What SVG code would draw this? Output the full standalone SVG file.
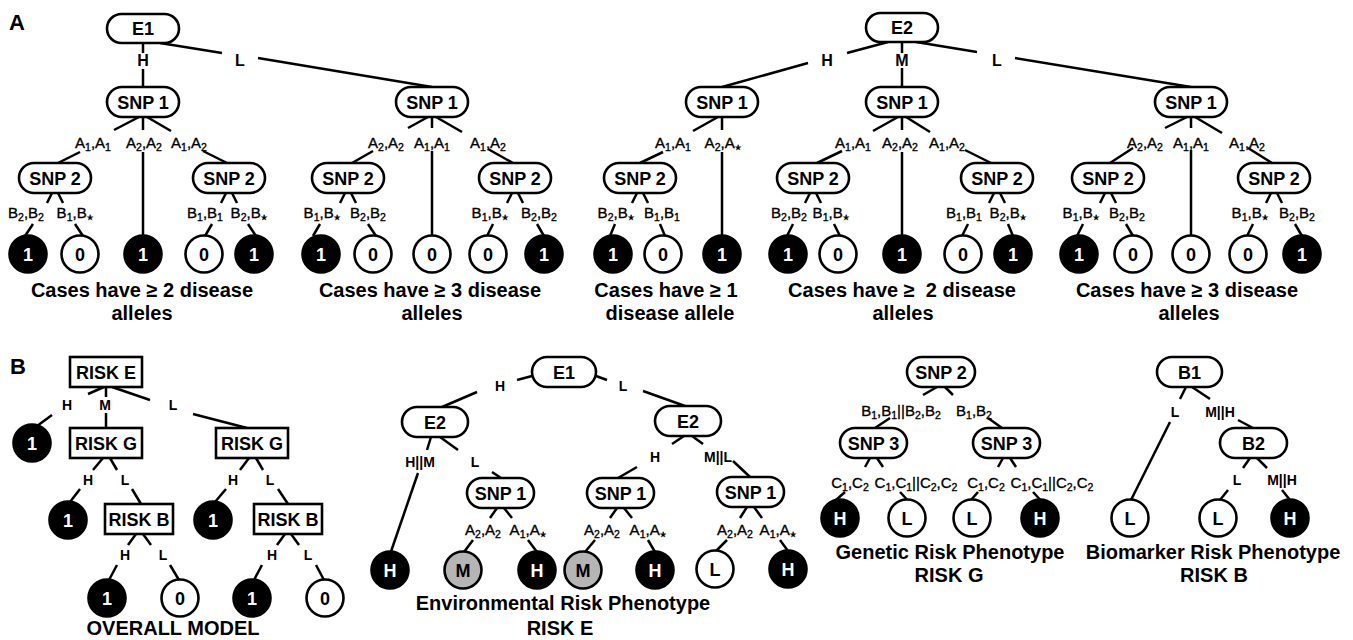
<svg xmlns="http://www.w3.org/2000/svg" width="1353" height="640" viewBox="0 0 1353 640">
<style>
.nd{fill:#fff;stroke:#000;stroke-width:2.6}
.lf{fill:#000;stroke:#000;stroke-width:2.6}
.lo{fill:#fff;stroke:#000;stroke-width:2.6}
.lg{fill:#b5b5b5;stroke:#000;stroke-width:2.6}
#connectors line{stroke:#000;stroke-width:2.5}
text{font-family:"Liberation Sans",Arial,sans-serif;text-anchor:middle}
.nt{font-size:18px;font-weight:bold}
.wt{fill:#fff}
.g{font-size:15px;stroke:#000;stroke-width:0.35}
.s{font-size:10.5px}
.st{font-family:"DejaVu Sans",sans-serif;font-size:7.5px}
.h{font-size:16px;font-weight:bold}
.hb{font-size:14px;font-weight:bold}
.cap{font-size:20px;font-weight:bold}
.pl{font-size:22px;font-weight:bold;text-anchor:start}
</style>

<text class="pl" x="9" y="30">A</text>
<text class="pl" x="10" y="374">B</text>

<g id="connectors">
<!-- A: E1 -->
<line x1="143" y1="43" x2="143" y2="53"/><line x1="143" y1="69" x2="143" y2="87"/>
<line x1="160" y1="43" x2="222" y2="53"/><line x1="258" y1="58" x2="432" y2="87"/>
<line x1="139" y1="117" x2="114" y2="130"/><line x1="80" y1="152" x2="58" y2="163"/>
<line x1="143" y1="117" x2="143" y2="130"/><line x1="143" y1="152" x2="143" y2="235.5"/>
<line x1="147" y1="117" x2="171" y2="131"/><line x1="203" y1="151" x2="227" y2="163"/>
<line x1="52" y1="193" x2="47" y2="203"/><line x1="33" y1="224" x2="25" y2="236"/>
<line x1="58" y1="193" x2="63" y2="203"/><line x1="75" y1="224" x2="83" y2="236"/>
<line x1="226" y1="193" x2="221" y2="203"/><line x1="212" y1="224" x2="205" y2="236"/>
<line x1="232" y1="193" x2="237" y2="203"/><line x1="248" y1="224" x2="256" y2="236"/>
<line x1="428" y1="117" x2="408" y2="128"/><line x1="373" y1="151" x2="352" y2="163"/>
<line x1="432" y1="117" x2="432" y2="128"/><line x1="432" y1="151" x2="432" y2="235.5"/>
<line x1="436" y1="117" x2="462" y2="132"/><line x1="488" y1="149" x2="513" y2="163"/>
<line x1="345" y1="193" x2="340" y2="203"/><line x1="320" y1="224" x2="313" y2="236"/>
<line x1="351" y1="193" x2="356" y2="203"/><line x1="368" y1="224" x2="376" y2="236"/>
<line x1="512" y1="193" x2="507" y2="203"/><line x1="493" y1="224" x2="487" y2="236"/>
<line x1="518" y1="193" x2="523" y2="203"/><line x1="537" y1="224" x2="544" y2="236"/>
<!-- A: E2 -->
<line x1="888" y1="42" x2="847" y2="53"/><line x1="808" y1="63" x2="722" y2="87"/>
<line x1="902" y1="42" x2="902" y2="53"/><line x1="902" y1="68" x2="902" y2="87"/>
<line x1="916" y1="42" x2="977" y2="52"/><line x1="1015" y1="58" x2="1191" y2="87"/>
<line x1="718" y1="117" x2="693" y2="131"/><line x1="663" y1="152" x2="640" y2="163"/>
<line x1="722" y1="117" x2="722" y2="130"/><line x1="722" y1="152" x2="722" y2="235.5"/>
<line x1="637" y1="193" x2="632" y2="203"/><line x1="615" y1="224" x2="610" y2="236"/>
<line x1="643" y1="193" x2="648" y2="203"/><line x1="660" y1="224" x2="665" y2="236"/>
<line x1="898" y1="117" x2="873" y2="131"/><line x1="842" y1="151" x2="817" y2="163"/>
<line x1="902" y1="117" x2="902" y2="130"/><line x1="902" y1="152" x2="902" y2="235.5"/>
<line x1="906" y1="117" x2="930" y2="132"/><line x1="965" y1="150" x2="991" y2="163"/>
<line x1="810" y1="193" x2="805" y2="203"/><line x1="793" y1="224" x2="787" y2="236"/>
<line x1="816" y1="193" x2="821" y2="203"/><line x1="834" y1="224" x2="840" y2="236"/>
<line x1="994" y1="193" x2="989" y2="203"/><line x1="968" y1="224" x2="962" y2="236"/>
<line x1="1000" y1="193" x2="1005" y2="203"/><line x1="1008" y1="224" x2="1013" y2="236"/>
<line x1="1187" y1="117" x2="1165" y2="128"/><line x1="1133" y1="148" x2="1110" y2="163"/>
<line x1="1191" y1="117" x2="1191" y2="128"/><line x1="1191" y1="150" x2="1191" y2="235.5"/>
<line x1="1195" y1="117" x2="1222" y2="133"/><line x1="1248" y1="148" x2="1272" y2="163"/>
<line x1="1105" y1="193" x2="1100" y2="203"/><line x1="1083" y1="224" x2="1077" y2="236"/>
<line x1="1111" y1="193" x2="1116" y2="203"/><line x1="1126" y1="224" x2="1133" y2="236"/>
<line x1="1271" y1="193" x2="1266" y2="203"/><line x1="1253" y1="224" x2="1247" y2="236"/>
<line x1="1277" y1="193" x2="1282" y2="203"/><line x1="1295" y1="224" x2="1302" y2="236"/>
<!-- B: overall -->
<line x1="104" y1="387" x2="88" y2="394"/><line x1="52" y1="415" x2="37" y2="426"/>
<line x1="106" y1="387" x2="106" y2="397"/><line x1="106" y1="413" x2="106" y2="428"/>
<line x1="112" y1="387" x2="150" y2="400"/><line x1="193" y1="414" x2="247" y2="428"/>
<line x1="103" y1="458" x2="93" y2="470"/><line x1="80" y1="489" x2="70" y2="502"/>
<line x1="110" y1="458" x2="117" y2="470"/><line x1="132" y1="489" x2="141" y2="504"/>
<line x1="249" y1="458" x2="240" y2="470"/><line x1="226" y1="489" x2="215" y2="502"/>
<line x1="256" y1="458" x2="263" y2="470"/><line x1="278" y1="489" x2="288" y2="504"/>
<line x1="136" y1="534" x2="128" y2="545"/><line x1="117" y1="565" x2="109" y2="580"/>
<line x1="143" y1="534" x2="151" y2="545"/><line x1="170" y1="565" x2="179" y2="580"/>
<line x1="285" y1="534" x2="277" y2="545"/><line x1="262" y1="565" x2="254" y2="580"/>
<line x1="291" y1="534" x2="299" y2="545"/><line x1="316" y1="565" x2="324" y2="580"/>
<!-- B: RISK E -->
<line x1="532" y1="376" x2="517" y2="380"/><line x1="477" y1="392" x2="442" y2="407"/>
<line x1="596" y1="376" x2="607" y2="380"/><line x1="643" y1="391" x2="685" y2="406"/>
<line x1="431" y1="437" x2="427" y2="450"/><line x1="418" y1="473" x2="391" y2="551.5"/>
<line x1="440" y1="437" x2="458" y2="450"/><line x1="492" y1="472" x2="501" y2="478"/>
<line x1="684" y1="436" x2="672" y2="444"/><line x1="637" y1="467" x2="618" y2="478"/>
<line x1="692" y1="436" x2="703" y2="444"/><line x1="733" y1="461" x2="750" y2="477"/>
<line x1="497" y1="508" x2="490" y2="518"/><line x1="473" y1="540" x2="464" y2="552"/>
<line x1="504" y1="508" x2="512" y2="518"/><line x1="528" y1="540" x2="537" y2="552"/>
<line x1="617" y1="508" x2="610" y2="518"/><line x1="595" y1="540" x2="585" y2="552"/>
<line x1="624" y1="508" x2="632" y2="518"/><line x1="648" y1="540" x2="655" y2="552"/>
<line x1="747" y1="507" x2="740" y2="518"/><line x1="727" y1="540" x2="716" y2="551"/>
<line x1="754" y1="507" x2="762" y2="518"/><line x1="780" y1="540" x2="788" y2="551"/>
<!-- B: RISK G -->
<line x1="937" y1="387" x2="923" y2="395"/><line x1="890" y1="418" x2="875" y2="428"/>
<line x1="945" y1="387" x2="953" y2="395"/><line x1="988" y1="418" x2="1002" y2="428"/>
<line x1="870" y1="458" x2="865" y2="467"/><line x1="845" y1="492" x2="836" y2="500"/>
<line x1="877" y1="458" x2="883" y2="467"/><line x1="900" y1="492" x2="907" y2="499.5"/>
<line x1="1003" y1="458" x2="998" y2="467"/><line x1="978" y1="492" x2="971" y2="500"/>
<line x1="1010" y1="458" x2="1016" y2="467"/><line x1="1033" y1="492" x2="1040" y2="499.5"/>
<!-- B: RISK B -->
<line x1="1186" y1="387" x2="1180" y2="399"/><line x1="1170" y1="422" x2="1131" y2="500"/>
<line x1="1192" y1="387" x2="1210" y2="399"/><line x1="1238" y1="420" x2="1253" y2="428"/>
<line x1="1250" y1="458" x2="1243" y2="468"/><line x1="1228" y1="490" x2="1220" y2="500"/>
<line x1="1257" y1="458" x2="1267" y2="468"/><line x1="1282" y1="490" x2="1290" y2="500"/>
</g>

<g id="edge-labels">
<text class="h" x="143" y="66">H</text><text class="h" x="240" y="66">L</text>
<text class="h" x="827" y="66">H</text><text class="h" x="902" y="66">M</text><text class="h" x="997" y="66">L</text>
<text class="g" x="93" y="148">A<tspan class="s" dy="3">1</tspan><tspan dy="-3">,A</tspan><tspan class="s" dy="3">1</tspan></text>
<text class="g" x="144" y="148">A<tspan class="s" dy="3">2</tspan><tspan dy="-3">,A</tspan><tspan class="s" dy="3">2</tspan></text>
<text class="g" x="189" y="148">A<tspan class="s" dy="3">1</tspan><tspan dy="-3">,A</tspan><tspan class="s" dy="3">2</tspan></text>
<text class="g" x="386" y="148">A<tspan class="s" dy="3">2</tspan><tspan dy="-3">,A</tspan><tspan class="s" dy="3">2</tspan></text>
<text class="g" x="432" y="148">A<tspan class="s" dy="3">1</tspan><tspan dy="-3">,A</tspan><tspan class="s" dy="3">1</tspan></text>
<text class="g" x="488" y="148">A<tspan class="s" dy="3">1</tspan><tspan dy="-3">,A</tspan><tspan class="s" dy="3">2</tspan></text>
<text class="g" x="673" y="148">A<tspan class="s" dy="3">1</tspan><tspan dy="-3">,A</tspan><tspan class="s" dy="3">1</tspan></text>
<text class="g" x="723" y="148">A<tspan class="s" dy="3">2</tspan><tspan dy="-3">,A</tspan><tspan class="st" dy="2">★</tspan></text>
<text class="g" x="853" y="148">A<tspan class="s" dy="3">1</tspan><tspan dy="-3">,A</tspan><tspan class="s" dy="3">1</tspan></text>
<text class="g" x="900" y="148">A<tspan class="s" dy="3">2</tspan><tspan dy="-3">,A</tspan><tspan class="s" dy="3">2</tspan></text>
<text class="g" x="947" y="148">A<tspan class="s" dy="3">1</tspan><tspan dy="-3">,A</tspan><tspan class="s" dy="3">2</tspan></text>
<text class="g" x="1145" y="148">A<tspan class="s" dy="3">2</tspan><tspan dy="-3">,A</tspan><tspan class="s" dy="3">2</tspan></text>
<text class="g" x="1191" y="148">A<tspan class="s" dy="3">1</tspan><tspan dy="-3">,A</tspan><tspan class="s" dy="3">1</tspan></text>
<text class="g" x="1247" y="148">A<tspan class="s" dy="3">1</tspan><tspan dy="-3">,A</tspan><tspan class="s" dy="3">2</tspan></text>

<text class="g" x="26" y="218">B<tspan class="s" dy="3">2</tspan><tspan dy="-3">,B</tspan><tspan class="s" dy="3">2</tspan></text>
<text class="g" x="75" y="218">B<tspan class="s" dy="3">1</tspan><tspan dy="-3">,B</tspan><tspan class="st" dy="2">★</tspan></text>
<text class="g" x="205" y="218">B<tspan class="s" dy="3">1</tspan><tspan dy="-3">,B</tspan><tspan class="s" dy="3">1</tspan></text>
<text class="g" x="249" y="218">B<tspan class="s" dy="3">2</tspan><tspan dy="-3">,B</tspan><tspan class="st" dy="2">★</tspan></text>
<text class="g" x="322" y="218">B<tspan class="s" dy="3">1</tspan><tspan dy="-3">,B</tspan><tspan class="st" dy="2">★</tspan></text>
<text class="g" x="368" y="218">B<tspan class="s" dy="3">2</tspan><tspan dy="-3">,B</tspan><tspan class="s" dy="3">2</tspan></text>
<text class="g" x="490" y="218">B<tspan class="s" dy="3">1</tspan><tspan dy="-3">,B</tspan><tspan class="st" dy="2">★</tspan></text>
<text class="g" x="539" y="218">B<tspan class="s" dy="3">2</tspan><tspan dy="-3">,B</tspan><tspan class="s" dy="3">2</tspan></text>
<text class="g" x="616" y="218">B<tspan class="s" dy="3">2</tspan><tspan dy="-3">,B</tspan><tspan class="st" dy="2">★</tspan></text>
<text class="g" x="662" y="218">B<tspan class="s" dy="3">1</tspan><tspan dy="-3">,B</tspan><tspan class="s" dy="3">1</tspan></text>
<text class="g" x="789" y="218">B<tspan class="s" dy="3">2</tspan><tspan dy="-3">,B</tspan><tspan class="s" dy="3">2</tspan></text>
<text class="g" x="831" y="218">B<tspan class="s" dy="3">1</tspan><tspan dy="-3">,B</tspan><tspan class="st" dy="2">★</tspan></text>
<text class="g" x="964" y="218">B<tspan class="s" dy="3">1</tspan><tspan dy="-3">,B</tspan><tspan class="s" dy="3">1</tspan></text>
<text class="g" x="1008" y="218">B<tspan class="s" dy="3">2</tspan><tspan dy="-3">,B</tspan><tspan class="st" dy="2">★</tspan></text>
<text class="g" x="1081" y="218">B<tspan class="s" dy="3">1</tspan><tspan dy="-3">,B</tspan><tspan class="st" dy="2">★</tspan></text>
<text class="g" x="1127" y="218">B<tspan class="s" dy="3">2</tspan><tspan dy="-3">,B</tspan><tspan class="s" dy="3">2</tspan></text>
<text class="g" x="1250" y="218">B<tspan class="s" dy="3">1</tspan><tspan dy="-3">,B</tspan><tspan class="st" dy="2">★</tspan></text>
<text class="g" x="1297" y="218">B<tspan class="s" dy="3">2</tspan><tspan dy="-3">,B</tspan><tspan class="s" dy="3">2</tspan></text>

<text class="hb" x="67" y="410">H</text><text class="hb" x="105" y="410">M</text><text class="hb" x="173" y="410">L</text>
<text class="hb" x="88" y="485">H</text><text class="hb" x="125" y="485">L</text>
<text class="hb" x="233" y="485">H</text><text class="hb" x="270" y="485">L</text>
<text class="hb" x="125" y="560">H</text><text class="hb" x="163" y="560">L</text>
<text class="hb" x="272" y="560">H</text><text class="hb" x="308" y="560">L</text>

<text class="hb" x="500" y="391">H</text><text class="hb" x="623" y="391">L</text>
<text class="hb" x="420" y="467">H||M</text><text class="hb" x="475" y="467">L</text>
<text class="hb" x="655" y="462">H</text><text class="hb" x="718" y="462">M||L</text>
<text class="g" x="483" y="535">A<tspan class="s" dy="3">2</tspan><tspan dy="-3">,A</tspan><tspan class="s" dy="3">2</tspan></text>
<text class="g" x="528" y="535">A<tspan class="s" dy="3">1</tspan><tspan dy="-3">,A</tspan><tspan class="st" dy="2">★</tspan></text>
<text class="g" x="602" y="535">A<tspan class="s" dy="3">2</tspan><tspan dy="-3">,A</tspan><tspan class="s" dy="3">2</tspan></text>
<text class="g" x="648" y="535">A<tspan class="s" dy="3">1</tspan><tspan dy="-3">,A</tspan><tspan class="st" dy="2">★</tspan></text>
<text class="g" x="735" y="535">A<tspan class="s" dy="3">2</tspan><tspan dy="-3">,A</tspan><tspan class="s" dy="3">2</tspan></text>
<text class="g" x="778" y="535">A<tspan class="s" dy="3">1</tspan><tspan dy="-3">,A</tspan><tspan class="st" dy="2">★</tspan></text>

<text class="g" x="901" y="416">B<tspan class="s" dy="3">1</tspan><tspan dy="-3">,B</tspan><tspan class="s" dy="3">1</tspan><tspan dy="-3">||B</tspan><tspan class="s" dy="3">2</tspan><tspan dy="-3">,B</tspan><tspan class="s" dy="3">2</tspan></text>
<text class="g" x="974" y="416">B<tspan class="s" dy="3">1</tspan><tspan dy="-3">,B</tspan><tspan class="s" dy="3">2</tspan></text>
<text class="g" x="850" y="488">C<tspan class="s" dy="3">1</tspan><tspan dy="-3">,C</tspan><tspan class="s" dy="3">2</tspan></text>
<text class="g" x="916" y="488">C<tspan class="s" dy="3">1</tspan><tspan dy="-3">,C</tspan><tspan class="s" dy="3">1</tspan><tspan dy="-3">||C</tspan><tspan class="s" dy="3">2</tspan><tspan dy="-3">,C</tspan><tspan class="s" dy="3">2</tspan></text>
<text class="g" x="986" y="488">C<tspan class="s" dy="3">1</tspan><tspan dy="-3">,C</tspan><tspan class="s" dy="3">2</tspan></text>
<text class="g" x="1052" y="488">C<tspan class="s" dy="3">1</tspan><tspan dy="-3">,C</tspan><tspan class="s" dy="3">1</tspan><tspan dy="-3">||C</tspan><tspan class="s" dy="3">2</tspan><tspan dy="-3">,C</tspan><tspan class="s" dy="3">2</tspan></text>

<text class="hb" x="1175" y="417">L</text><text class="hb" x="1220" y="417">M||H</text>
<text class="hb" x="1237" y="485">L</text><text class="hb" x="1282" y="485">M||H</text>
</g>

<!-- A nodes -->
<g id="A-E1"><rect class="nd" x="107" y="14" width="72" height="29" rx="14.5"/><text class="nt" x="143" y="35">E1</text></g>
<g id="A-E1H-SNP1"><rect class="nd" x="107" y="87" width="72" height="30" rx="15"/><text class="nt" x="143" y="108.5">SNP 1</text></g>
<g id="A-E1H-SNP2a"><rect class="nd" x="19" y="163" width="72" height="30" rx="15"/><text class="nt" x="55" y="184.5">SNP 2</text></g>
<g id="A-E1H-SNP2b"><rect class="nd" x="193" y="163" width="72" height="30" rx="15"/><text class="nt" x="229" y="184.5">SNP 2</text></g>
<g id="A-E1L-SNP1"><rect class="nd" x="396" y="87" width="72" height="30" rx="15"/><text class="nt" x="432" y="108.5">SNP 1</text></g>
<g id="A-E1L-SNP2a"><rect class="nd" x="312" y="163" width="72" height="30" rx="15"/><text class="nt" x="348" y="184.5">SNP 2</text></g>
<g id="A-E1L-SNP2b"><rect class="nd" x="479" y="163" width="72" height="30" rx="15"/><text class="nt" x="515" y="184.5">SNP 2</text></g>
<g id="A-E2"><rect class="nd" x="866" y="13" width="72" height="29" rx="14.5"/><text class="nt" x="902" y="34">E2</text></g>
<g id="A-E2H-SNP1"><rect class="nd" x="686" y="87" width="72" height="30" rx="15"/><text class="nt" x="722" y="108.5">SNP 1</text></g>
<g id="A-E2H-SNP2"><rect class="nd" x="604" y="163" width="72" height="30" rx="15"/><text class="nt" x="640" y="184.5">SNP 2</text></g>
<g id="A-E2M-SNP1"><rect class="nd" x="866" y="87" width="72" height="30" rx="15"/><text class="nt" x="902" y="108.5">SNP 1</text></g>
<g id="A-E2M-SNP2a"><rect class="nd" x="777" y="163" width="72" height="30" rx="15"/><text class="nt" x="813" y="184.5">SNP 2</text></g>
<g id="A-E2M-SNP2b"><rect class="nd" x="961" y="163" width="72" height="30" rx="15"/><text class="nt" x="997" y="184.5">SNP 2</text></g>
<g id="A-E2L-SNP1"><rect class="nd" x="1155" y="87" width="72" height="30" rx="15"/><text class="nt" x="1191" y="108.5">SNP 1</text></g>
<g id="A-E2L-SNP2a"><rect class="nd" x="1072" y="163" width="72" height="30" rx="15"/><text class="nt" x="1108" y="184.5">SNP 2</text></g>
<g id="A-E2L-SNP2b"><rect class="nd" x="1238" y="163" width="72" height="30" rx="15"/><text class="nt" x="1274" y="184.5">SNP 2</text></g>

<!-- A leaves -->
<g id="A-leaves">
<g id="A-l1"><circle class="lf" cx="28" cy="254" r="18.5"/><text class="nt wt" x="28" y="260.5">1</text></g>
<g id="A-l2"><circle class="lo" cx="80" cy="254" r="18.5"/><text class="nt" x="80" y="260.5">0</text></g>
<g id="A-l3"><circle class="lf" cx="143" cy="254" r="18.5"/><text class="nt wt" x="143" y="260.5">1</text></g>
<g id="A-l4"><circle class="lo" cx="204" cy="254" r="18.5"/><text class="nt" x="204" y="260.5">0</text></g>
<g id="A-l5"><circle class="lf" cx="254" cy="254" r="18.5"/><text class="nt wt" x="254" y="260.5">1</text></g>
<g id="A-l6"><circle class="lf" cx="321" cy="254" r="18.5"/><text class="nt wt" x="321" y="260.5">1</text></g>
<g id="A-l7"><circle class="lo" cx="373" cy="254" r="18.5"/><text class="nt" x="373" y="260.5">0</text></g>
<g id="A-l8"><circle class="lo" cx="432" cy="254" r="18.5"/><text class="nt" x="432" y="260.5">0</text></g>
<g id="A-l9"><circle class="lo" cx="488" cy="254" r="18.5"/><text class="nt" x="488" y="260.5">0</text></g>
<g id="A-l10"><circle class="lf" cx="544" cy="254" r="18.5"/><text class="nt wt" x="544" y="260.5">1</text></g>
<g id="A-l11"><circle class="lf" cx="613" cy="254" r="18.5"/><text class="nt wt" x="613" y="260.5">1</text></g>
<g id="A-l12"><circle class="lo" cx="663" cy="254" r="18.5"/><text class="nt" x="663" y="260.5">0</text></g>
<g id="A-l13"><circle class="lf" cx="722" cy="254" r="18.5"/><text class="nt wt" x="722" y="260.5">1</text></g>
<g id="A-l14"><circle class="lf" cx="788" cy="254" r="18.5"/><text class="nt wt" x="788" y="260.5">1</text></g>
<g id="A-l15"><circle class="lo" cx="838" cy="254" r="18.5"/><text class="nt" x="838" y="260.5">0</text></g>
<g id="A-l16"><circle class="lf" cx="902" cy="254" r="18.5"/><text class="nt wt" x="902" y="260.5">1</text></g>
<g id="A-l17"><circle class="lo" cx="963" cy="254" r="18.5"/><text class="nt" x="963" y="260.5">0</text></g>
<g id="A-l18"><circle class="lf" cx="1013" cy="254" r="18.5"/><text class="nt wt" x="1013" y="260.5">1</text></g>
<g id="A-l19"><circle class="lf" cx="1079" cy="254" r="18.5"/><text class="nt wt" x="1079" y="260.5">1</text></g>
<g id="A-l20"><circle class="lo" cx="1133" cy="254" r="18.5"/><text class="nt" x="1133" y="260.5">0</text></g>
<g id="A-l21"><circle class="lo" cx="1191" cy="254" r="18.5"/><text class="nt" x="1191" y="260.5">0</text></g>
<g id="A-l22"><circle class="lo" cx="1248" cy="254" r="18.5"/><text class="nt" x="1248" y="260.5">0</text></g>
<g id="A-l23"><circle class="lf" cx="1302" cy="254" r="18.5"/><text class="nt wt" x="1302" y="260.5">1</text></g>
</g>

<g id="A-captions">
<text class="cap" x="142" y="297">Cases have ≥ 2 disease</text><text class="cap" x="142" y="320">alleles</text>
<text class="cap" x="430" y="297">Cases have ≥ 3 disease</text><text class="cap" x="432" y="320">alleles</text>
<text class="cap" x="666" y="297">Cases have ≥ 1</text><text class="cap" x="670" y="320">disease allele</text>
<text class="cap" x="902" y="297">Cases have ≥ &#160;2 disease</text><text class="cap" x="903" y="320">alleles</text>
<text class="cap" x="1187" y="297">Cases have ≥ 3 disease</text><text class="cap" x="1189" y="320">alleles</text>
</g>

<!-- B overall model -->
<g id="B-RISKE"><rect class="nd" x="70" y="357" width="72" height="30"/><text class="nt" x="106" y="378.5">RISK E</text></g>
<g id="B-RISKG1"><rect class="nd" x="70" y="428" width="72" height="30"/><text class="nt" x="106" y="449.5">RISK G</text></g>
<g id="B-RISKG2"><rect class="nd" x="216" y="428" width="72" height="30"/><text class="nt" x="252" y="449.5">RISK G</text></g>
<g id="B-RISKB1"><rect class="nd" x="105" y="504" width="68" height="30"/><text class="nt" x="139" y="525.5">RISK B</text></g>
<g id="B-RISKB2"><rect class="nd" x="254" y="504" width="68" height="30"/><text class="nt" x="288" y="525.5">RISK B</text></g>
<g id="B-ov-leaves">
<g id="B-o1"><circle class="lf" cx="32" cy="443" r="18.5"/><text class="nt wt" x="32" y="449.5">1</text></g>
<g id="B-o2"><circle class="lf" cx="68" cy="520" r="18.5"/><text class="nt wt" x="68" y="526.5">1</text></g>
<g id="B-o3"><circle class="lf" cx="213" cy="520" r="18.5"/><text class="nt wt" x="213" y="526.5">1</text></g>
<g id="B-o4"><circle class="lf" cx="107" cy="598" r="18.5"/><text class="nt wt" x="107" y="604.5">1</text></g>
<g id="B-o5"><circle class="lo" cx="180" cy="598" r="18.5"/><text class="nt" x="180" y="604.5">0</text></g>
<g id="B-o6"><circle class="lf" cx="252" cy="598" r="18.5"/><text class="nt wt" x="252" y="604.5">1</text></g>
<g id="B-o7"><circle class="lo" cx="325" cy="598" r="18.5"/><text class="nt" x="325" y="604.5">0</text></g>
</g>
<text class="cap" x="173" y="635">OVERALL MODEL</text>

<!-- B RISK E tree -->
<g id="B-E1"><rect class="nd" x="532" y="357" width="64" height="30" rx="15"/><text class="nt" x="564" y="378.5">E1</text></g>
<g id="B-E2a"><rect class="nd" x="402" y="407" width="66" height="30" rx="15"/><text class="nt" x="435" y="428.5">E2</text></g>
<g id="B-E2b"><rect class="nd" x="655" y="406" width="66" height="30" rx="15"/><text class="nt" x="688" y="427.5">E2</text></g>
<g id="B-SNP1a"><rect class="nd" x="467" y="478" width="67" height="30" rx="15"/><text class="nt" x="500.5" y="499.5">SNP 1</text></g>
<g id="B-SNP1b"><rect class="nd" x="587" y="478" width="67" height="30" rx="15"/><text class="nt" x="620.5" y="499.5">SNP 1</text></g>
<g id="B-SNP1c"><rect class="nd" x="717" y="477" width="67" height="30" rx="15"/><text class="nt" x="750.5" y="498.5">SNP 1</text></g>
<g id="B-e-leaves">
<g id="B-e1"><circle class="lf" cx="390" cy="570" r="18.5"/><text class="nt wt" x="390" y="576.5">H</text></g>
<g id="B-e2"><circle class="lg" cx="463" cy="570" r="18.5"/><text class="nt" x="463" y="576.5">M</text></g>
<g id="B-e3"><circle class="lf" cx="537" cy="570" r="18.5"/><text class="nt wt" x="537" y="576.5">H</text></g>
<g id="B-e4"><circle class="lg" cx="583" cy="570" r="18.5"/><text class="nt" x="583" y="576.5">M</text></g>
<g id="B-e5"><circle class="lf" cx="655" cy="570" r="18.5"/><text class="nt wt" x="655" y="576.5">H</text></g>
<g id="B-e6"><circle class="lo" cx="715" cy="569" r="18.5"/><text class="nt" x="715" y="575.5">L</text></g>
<g id="B-e7"><circle class="lf" cx="788" cy="569" r="18.5"/><text class="nt wt" x="788" y="575.5">H</text></g>
</g>
<text class="cap" x="563" y="610">Environmental Risk Phenotype</text>
<text class="cap" x="560" y="635">RISK E</text>

<!-- B RISK G tree -->
<g id="B-SNP2"><rect class="nd" x="907" y="357" width="68" height="30" rx="15"/><text class="nt" x="941" y="378.5">SNP 2</text></g>
<g id="B-SNP3a"><rect class="nd" x="840" y="428" width="67" height="30" rx="15"/><text class="nt" x="873.5" y="449.5">SNP 3</text></g>
<g id="B-SNP3b"><rect class="nd" x="973" y="428" width="67" height="30" rx="15"/><text class="nt" x="1006.5" y="449.5">SNP 3</text></g>
<g id="B-g-leaves">
<g id="B-g1"><circle class="lf" cx="840" cy="518" r="18.5"/><text class="nt wt" x="840" y="524.5">H</text></g>
<g id="B-g2"><circle class="lo" cx="907" cy="518" r="18.5"/><text class="nt" x="907" y="524.5">L</text></g>
<g id="B-g3"><circle class="lo" cx="972" cy="518" r="18.5"/><text class="nt" x="972" y="524.5">L</text></g>
<g id="B-g4"><circle class="lf" cx="1040" cy="518" r="18.5"/><text class="nt wt" x="1040" y="524.5">H</text></g>
</g>
<text class="cap" x="950" y="559">Genetic Risk Phenotype</text>
<text class="cap" x="949" y="582">RISK G</text>

<!-- B RISK B tree -->
<g id="B-B1"><rect class="nd" x="1157" y="357" width="65" height="30" rx="15"/><text class="nt" x="1189.5" y="378.5">B1</text></g>
<g id="B-B2"><rect class="nd" x="1220" y="428" width="67" height="30" rx="15"/><text class="nt" x="1253.5" y="449.5">B2</text></g>
<g id="B-b-leaves">
<g id="B-b1"><circle class="lo" cx="1130" cy="518" r="18.5"/><text class="nt" x="1130" y="524.5">L</text></g>
<g id="B-b2"><circle class="lo" cx="1218" cy="518" r="18.5"/><text class="nt" x="1218" y="524.5">L</text></g>
<g id="B-b3"><circle class="lf" cx="1290" cy="518" r="18.5"/><text class="nt wt" x="1290" y="524.5">H</text></g>
</g>
<text class="cap" x="1213" y="559">Biomarker Risk Phenotype</text>
<text class="cap" x="1214" y="582">RISK B</text>
</svg>
